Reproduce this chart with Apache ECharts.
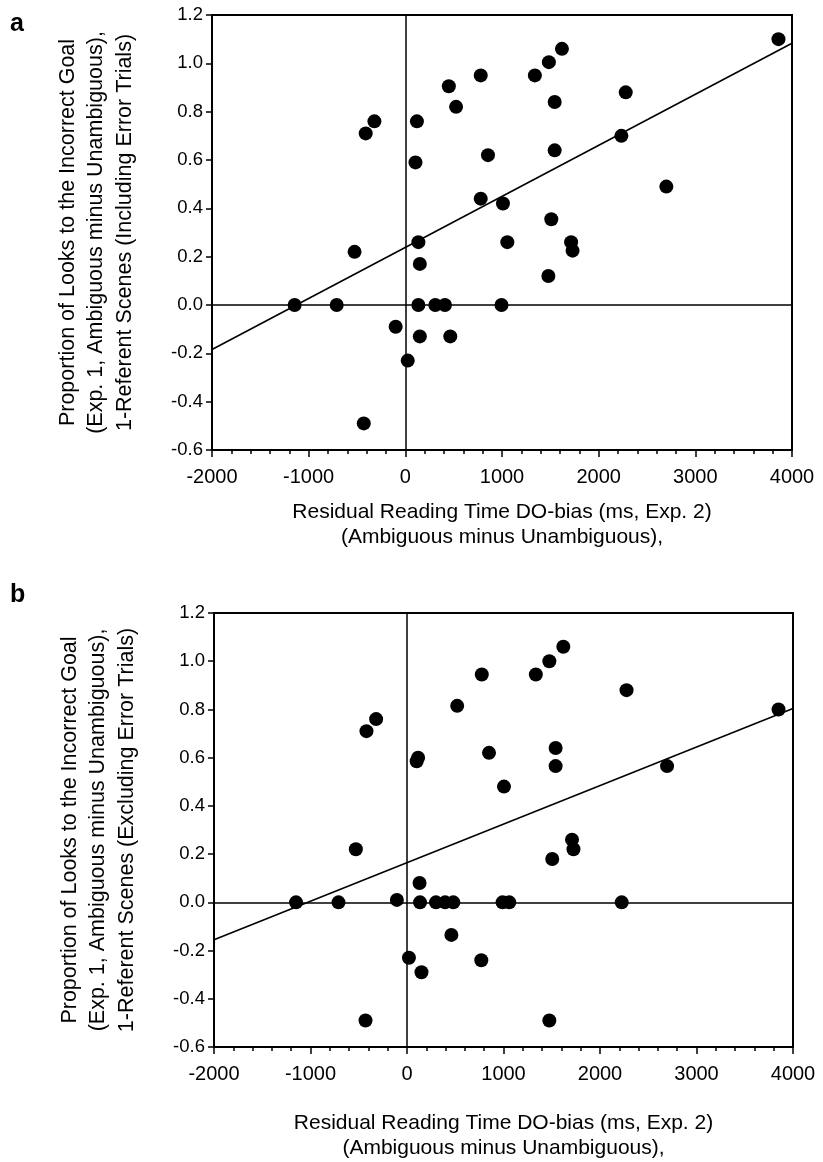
<!DOCTYPE html>
<html><head><meta charset="utf-8">
<script src="https://cdn.jsdelivr.net/npm/echarts@6/dist/echarts.min.js"></script>
<style>html,body{margin:0;padding:0;background:#fff}#c{width:823px;height:1162px}</style>
</head><body><div id="c"></div>
<script>
// Panel a: Including Error Trials
const xA = [-1145,-710,-525,-430,-410,-320,-100,25,105,120,135,150,135,150,310,410,450,465,525,780,780,855,995,1010,1055,1340,1480,1485,1510,1545,1545,1620,1715,1730,2235,2280,2700,3860];
const yA = [0,0,0.22,-0.49,0.71,0.76,-0.09,-0.23,0.59,0.76,0.26,0.17,0,-0.13,0,0,0.905,-0.13,0.82,0.95,0.44,0.62,0,0.42,0.26,0.95,0.12,1.005,0.355,0.84,0.64,1.06,0.26,0.225,0.70,0.88,0.49,1.10];
// Panel b: Excluding Error Trials
const xB = [-1150,-710,-530,-430,-420,-320,-105,20,100,115,130,135,150,300,395,460,480,520,770,775,850,990,1005,1060,1335,1475,1475,1505,1540,1540,1620,1710,1725,2225,2275,2695,3850];
const yB = [0,0,0.22,-0.49,0.71,0.76,0.01,-0.23,0.585,0.6,0.08,0,-0.29,0,0,-0.135,0,0.815,-0.24,0.945,0.62,0,0.48,0,0.945,1.0,-0.49,0.18,0.64,0.565,1.06,0.26,0.22,0,0.88,0.565,0.80];
// Fitted regression lines (end points)
const fitX = [-2000, 4000];
const fitA = [-0.184, 1.083];
const fitB = [-0.155, 0.804];
// Axis ticks
const xMin = -2000, xMax = 4000, xStep = 1000;
const yMin = -0.6, yMax = 1.2, yStep = 0.2;
const xTitle = 'Residual Reading Time DO-bias (ms, Exp. 2)\n(Ambiguous minus Unambiguous),';
const yTitleA = 'Proportion of Looks to the Incorrect Goal\n(Exp. 1, Ambiguous minus Unambiguous),\n1-Referent Scenes (Including Error Trials)';
const yTitleB = 'Proportion of Looks to the Incorrect Goal\n(Exp. 1, Ambiguous minus Unambiguous),\n1-Referent Scenes (Excluding Error Trials)';

const FONT = 'Liberation Sans, Arial, sans-serif';
const pair = (xs, ys) => xs.map((x, i) => [x, ys[i]]);

function xAxisCfg(grid, gap) {
  return {
    type: 'value', gridIndex: grid, min: xMin, max: xMax, interval: xStep,
    name: xTitle, nameLocation: 'middle', nameGap: gap,
    nameTextStyle: {fontFamily: FONT, fontSize: 21, color: '#000', lineHeight: 25},
    axisLine: {show: true, onZero: false, lineStyle: {color: '#000', width: 2}},
    axisTick: {show: true, inside: false, length: 7, lineStyle: {color: '#000', width: 1.5}},
    minorTick: {show: true, splitNumber: 5, length: 4, lineStyle: {color: '#000', width: 1.5}},
    axisLabel: {fontFamily: FONT, fontSize: 20, color: '#000', margin: 17,
      formatter: v => String(Math.round(v))},
    splitLine: {show: false}
  };
}
function yAxisCfg(grid, title) {
  return {
    type: 'value', gridIndex: grid, min: yMin, max: yMax, interval: yStep,
    name: title, nameLocation: 'middle', nameGap: 73, nameRotate: 90,
    nameTextStyle: {fontFamily: FONT, fontSize: 21.5, color: '#000', lineHeight: 28.5},
    axisLine: {show: true, onZero: false, lineStyle: {color: '#000', width: 2}},
    axisTick: {show: true, inside: false, length: 6, lineStyle: {color: '#000', width: 1.5}},
    axisLabel: {fontFamily: FONT, fontSize: 18.5, color: '#000', margin: 9,
      formatter: v => (Math.round(v * 10) / 10).toFixed(1)},
    splitLine: {show: false}
  };
}
function series(idx, xs, ys, fit) {
  return [
    {type: 'scatter', xAxisIndex: idx, yAxisIndex: idx, data: pair(xs, ys),
     symbol: 'circle', symbolSize: 14, itemStyle: {color: '#000', opacity: 1}, z: 5,
     emphasis: {disabled: true},
     markLine: {silent: true, symbol: 'none', label: {show: false},
       lineStyle: {color: '#000', width: 1.5, type: 'solid'},
       data: [{xAxis: 0}, {yAxis: 0}]}},
    {type: 'line', xAxisIndex: idx, yAxisIndex: idx, data: pair(fitX, fit),
     symbol: 'none', lineStyle: {color: '#000', width: 1.6}, z: 4}
  ];
}

const chart = echarts.init(document.getElementById('c'), null, {renderer: 'canvas'});
chart.setOption({
  animation: false,
  backgroundColor: '#fff',
  grid: [
    {left: 212, top: 15, width: 580, height: 435, show: true, borderColor: '#000', borderWidth: 2, backgroundColor: 'transparent'},
    {left: 214, top: 613, width: 579, height: 435, show: true, borderColor: '#000', borderWidth: 2, backgroundColor: 'transparent'}
  ],
  xAxis: [xAxisCfg(0, 50), xAxisCfg(1, 64)],
  yAxis: [yAxisCfg(0, yTitleA), yAxisCfg(1, yTitleB)],
  series: [...series(0, xA, yA, fitA), ...series(1, xB, yB, fitB)],
  graphic: [
    {type: 'text', left: 10, top: 12, style: {text: 'a', font: 'bold 25px ' + FONT, fill: '#000'}},
    {type: 'text', left: 10, top: 583, style: {text: 'b', font: 'bold 25px ' + FONT, fill: '#000'}}
  ]
});
</script></body></html>
